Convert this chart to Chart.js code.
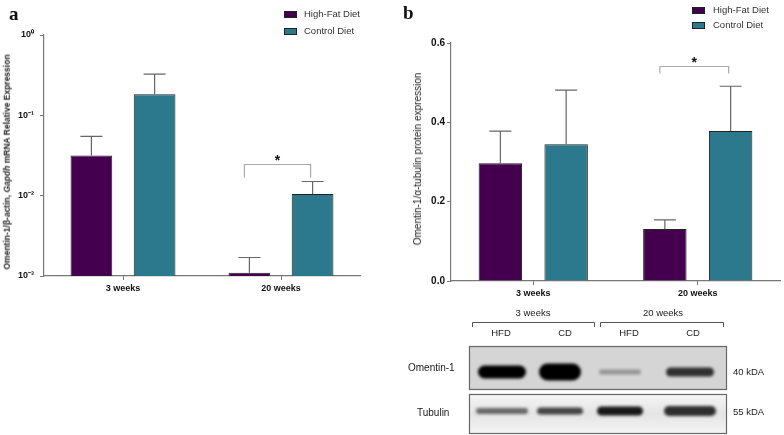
<!DOCTYPE html>
<html>
<head>
<meta charset="utf-8">
<script src="https://cdn.jsdelivr.net/npm/chart.js@4.4.1/dist/chart.umd.min.js"></script>
<style>
  body   { margin: 0; background: #fff; font-family: 'Liberation Sans', Arial, sans-serif; }
  #wrap  { position: relative; width: 784px; height: 435px; overflow: hidden; background: #fff; }
  canvas { position: absolute; }
  .panel { position: absolute; font: bold 19px 'Liberation Serif', serif; color: #111; line-height: 1; }
  .ytitle { position: absolute; white-space: nowrap; transform: translate(-50%, -50%) rotate(-90deg); color: #222; line-height: 1; }
  .leg   { position: absolute; font-size: 9.5px; color: #333; line-height: 1; transform: translateY(-50%); white-space: nowrap; }
  .sw    { position: absolute; width: 11px; height: 5px; border: 1px solid #222; }
</style>
</head>
<body>
<div id="wrap">
  <canvas id="chartA" width="380" height="300" style="left:0;top:0"></canvas>
  <canvas id="chartB" width="394" height="300" style="left:390px;top:0"></canvas>
  <canvas id="blot" width="394" height="135" style="left:390px;top:300px"></canvas>

  <div class="panel" style="left:9px;top:4px">a</div>
  <div class="panel" style="left:403px;top:3px">b</div>

  <div class="ytitle" style="left:7px;top:162px;font-size:8.5px;font-weight:bold">Omentin-1/β-actin, <i>Gapdh</i> mRNA Relative Expression</div>
  <div class="ytitle" style="left:418px;top:159px;font-size:10px">Omentin-1/α-tubulin protein expression</div>

  <div class="sw" style="left:284px;top:11px;background:#44004e"></div>
  <div class="leg" style="left:304px;top:14px">High-Fat Diet</div>
  <div class="sw" style="left:284px;top:28px;background:#2c788c"></div>
  <div class="leg" style="left:304px;top:31px">Control Diet</div>

  <div class="sw" style="left:692px;top:7px;background:#44004e"></div>
  <div class="leg" style="left:713px;top:10px">High-Fat Diet</div>
  <div class="sw" style="left:692px;top:22px;background:#2c788c"></div>
  <div class="leg" style="left:713px;top:25px">Control Diet</div>
</div>

<script>
// ─── Data ─────────────────────────────────────────────
const groups       = ['3 weeks', '20 weeks']
const seriesNames  = ['High-Fat Diet', 'Control Diet']
const seriesColors = ['#44004e', '#2c788c']

// panel a: mRNA (log scale)
const mrnaHFD        = [0.0316, 0.0011]
const mrnaHFDErr     = [0.023, 0.0006]
const mrnaCD         = [0.183, 0.0105]
const mrnaCDErr      = [0.143, 0.0045]
const mrnaTicks      = [0.001, 0.01, 0.1, 1]
const mrnaTickLabels = ['10⁻³', '10⁻²', '10⁻¹', '10⁰']

// panel b: protein (linear)
const protHFD    = [0.297, 0.131]
const protHFDErr = [0.081, 0.023]
const protCD     = [0.345, 0.378]
const protCDErr  = [0.136, 0.113]
const protTicks  = [0, 0.2, 0.4, 0.6]

// western blot lanes
const laneLabels    = ['HFD', 'CD', 'HFD', 'CD']
const omentinBands  = [1.0, 1.0, 0.3, 0.78]
const tubulinBands  = [0.55, 0.7, 0.9, 0.8]

// ─── Shared Style ─────────────────────────────────────
const FONT     = "'Liberation Sans', Arial, sans-serif"
const AXIS_COL = '#777'

// ─── Error Bars + Significance Bracket ────────────────
const errorBars = {
  id: 'errorBars',
  afterDatasetsDraw(chart, args, opts) {
    const { ctx } = chart
    const yScale = chart.scales.y
    ctx.save()
    ctx.strokeStyle = '#666'
    ctx.lineWidth = 1.2
    chart.data.datasets.forEach((ds, i) => {
      chart.getDatasetMeta(i).data.forEach((bar, j) => {
        const top = yScale.getPixelForValue(ds.data[j] + ds.errors[j])
        ctx.beginPath()
        ctx.moveTo(bar.x, bar.y)
        ctx.lineTo(bar.x, top)
        ctx.moveTo(bar.x - 11, top)
        ctx.lineTo(bar.x + 11, top)
        ctx.stroke()
      })
    })

    const br = opts.bracket
    if (br) {
      const a = chart.getDatasetMeta(0).data[br.index]
      const b = chart.getDatasetMeta(1).data[br.index]
      const by = Math.round(yScale.getPixelForValue(br.value)) + 0.5
      const x1 = a.x - 5, x2 = b.x - 2
      ctx.strokeStyle = '#aaa'
      ctx.lineWidth = 1.2
      ctx.beginPath()
      ctx.moveTo(x1, by + br.drop)
      ctx.lineTo(x1, by)
      ctx.lineTo(x2, by)
      ctx.lineTo(x2, by + br.drop)
      ctx.stroke()
      ctx.fillStyle = '#111'
      ctx.font = `bold 14px ${FONT}`
      ctx.textAlign = 'center'
      ctx.textBaseline = 'alphabetic'
      ctx.fillText('*', (x1 + x2) / 2, by + br.starOffset)
    }
    ctx.restore()
  }
}

function makeDatasets(hfd, hfdErr, cd, cdErr) {
  const common = { borderColor: '#222', borderWidth: 1, categoryPercentage: 0.8, barPercentage: 0.66 }
  return [
    { label: seriesNames[0], data: hfd, errors: hfdErr, backgroundColor: seriesColors[0], ...common },
    { label: seriesNames[1], data: cd,  errors: cdErr,  backgroundColor: seriesColors[1], ...common }
  ]
}

function xAxis(height) {
  return {
    grid:   { display: true, drawOnChartArea: false, offset: false, tickLength: 4, color: AXIS_COL },
    border: { color: AXIS_COL, width: 1.2 },
    ticks:  { color: '#111', font: { family: FONT, size: 9, weight: 'bold' }, padding: 3 },
    afterFit: s => { s.height = height }
  }
}

// ─── Panel a ──────────────────────────────────────────
new Chart(document.getElementById('chartA'), {
  type: 'bar',
  data: { labels: groups, datasets: makeDatasets(mrnaHFD, mrnaHFDErr, mrnaCD, mrnaCDErr) },
  plugins: [errorBars],
  options: {
    responsive: false,
    animation: false,
    layout: { padding: { top: 35, right: 20, left: 0, bottom: 0 } },
    plugins: {
      legend: { display: false },
      tooltip: { enabled: false },
      errorBars: { bracket: { index: 1, value: 0.0251, drop: 13, starOffset: 0 } }
    },
    scales: {
      x: xAxis(24),
      y: {
        type: 'logarithmic',
        min: 0.001,
        max: 1,
        afterBuildTicks: s => { s.ticks = mrnaTicks.map(v => ({ value: v })) },
        grid:   { display: true, drawOnChartArea: false, tickLength: 4, color: AXIS_COL },
        border: { color: AXIS_COL, width: 1.2 },
        ticks:  {
          autoSkip: false,
          color: '#111',
          padding: 6,
          font: { family: FONT, size: 9, weight: 'bold' },
          callback: (v, i) => mrnaTickLabels[i]
        },
        afterFit: s => { s.width = 44 }
      }
    }
  }
})

// ─── Panel b ──────────────────────────────────────────
new Chart(document.getElementById('chartB'), {
  type: 'bar',
  data: { labels: groups, datasets: makeDatasets(protHFD, protHFDErr, protCD, protCDErr) },
  plugins: [errorBars],
  options: {
    responsive: false,
    animation: false,
    layout: { padding: { top: 43, right: 4, left: 0, bottom: 0 } },
    plugins: {
      legend: { display: false },
      tooltip: { enabled: false },
      errorBars: { bracket: { index: 1, value: 0.542, drop: 7, starOffset: 0 } }
    },
    scales: {
      x: xAxis(19),
      y: {
        min: 0,
        max: 0.6,
        afterBuildTicks: s => { s.ticks = protTicks.map(v => ({ value: v })) },
        grid:   { display: true, drawOnChartArea: false, tickLength: 4, color: AXIS_COL },
        border: { color: AXIS_COL, width: 1.2 },
        ticks:  {
          color: '#111',
          padding: 2,
          font: { family: FONT, size: 10, weight: 'bold' },
          callback: v => v.toFixed(1)
        },
        afterFit: s => { s.width = 61 }
      }
    }
  }
})

// ─── Western Blot ─────────────────────────────────────
function band(ctx, cx, cy, w, h, alpha) {
  ctx.fillStyle = `rgba(0,0,0,${alpha})`
  ctx.beginPath()
  ctx.roundRect(cx - w / 2, cy - h / 2, w, h, h / 2)
  ctx.fill()
}

function drawBlot() {
  const ctx = document.getElementById('blot').getContext('2d')
  const lanes = [112, 170, 230, 300]
  const laneWidths = [48, 42, 42, 48]

  ctx.fillStyle = '#222'
  ctx.font = `9.5px ${FONT}`
  ctx.textAlign = 'center'
  ctx.textBaseline = 'middle'
  ctx.fillText('3 weeks', 143, 13)
  ctx.fillText('20 weeks', 273, 13)
  laneLabels.forEach((t, i) => ctx.fillText(t, [111, 175, 239, 303][i], 33))

  // group brackets
  ctx.strokeStyle = '#555'
  ctx.lineWidth = 1
  ;[[82, 204], [210, 333]].forEach(([a, b]) => {
    ctx.beginPath()
    ctx.moveTo(a + 0.5, 27); ctx.lineTo(a + 0.5, 22.5); ctx.lineTo(b + 0.5, 22.5); ctx.lineTo(b + 0.5, 27)
    ctx.stroke()
  })

  // membranes
  ctx.fillStyle = '#d5d5d5'
  ctx.fillRect(79, 46, 257, 43)
  const g = ctx.createLinearGradient(0, 94, 0, 133)
  g.addColorStop(0, '#f6f6f6'); g.addColorStop(0.5, '#e4e4e4'); g.addColorStop(1, '#f4f4f4')
  ctx.fillStyle = g
  ctx.fillRect(79, 94, 257, 39)

  // bands
  ctx.save()
  ctx.filter = 'blur(1.8px)'
  const omentinH = [13, 17, 5, 9]
  omentinBands.forEach((a, i) => band(ctx, lanes[i], 72, laneWidths[i], omentinH[i], a))
  const tubH = [6, 7, 9, 10]
  tubulinBands.forEach((a, i) => band(ctx, lanes[i], 111, laneWidths[i] + 4, tubH[i], a))
  ctx.restore()

  ctx.strokeStyle = '#666'
  ctx.lineWidth = 1.2
  ctx.strokeRect(79.5, 46.5, 257, 43)
  ctx.strokeRect(79.5, 94.5, 257, 39)

  ctx.fillStyle = '#222'
  ctx.font = `10px ${FONT}`
  ctx.textAlign = 'left'
  ctx.fillText('Omentin-1', 18, 68)
  ctx.fillText('Tubulin', 27, 113)
  ctx.font = `9.5px ${FONT}`
  ctx.fillText('40 kDA', 343, 72)
  ctx.fillText('55 kDA', 343, 112)
}

drawBlot()
</script>
</body>
</html>
